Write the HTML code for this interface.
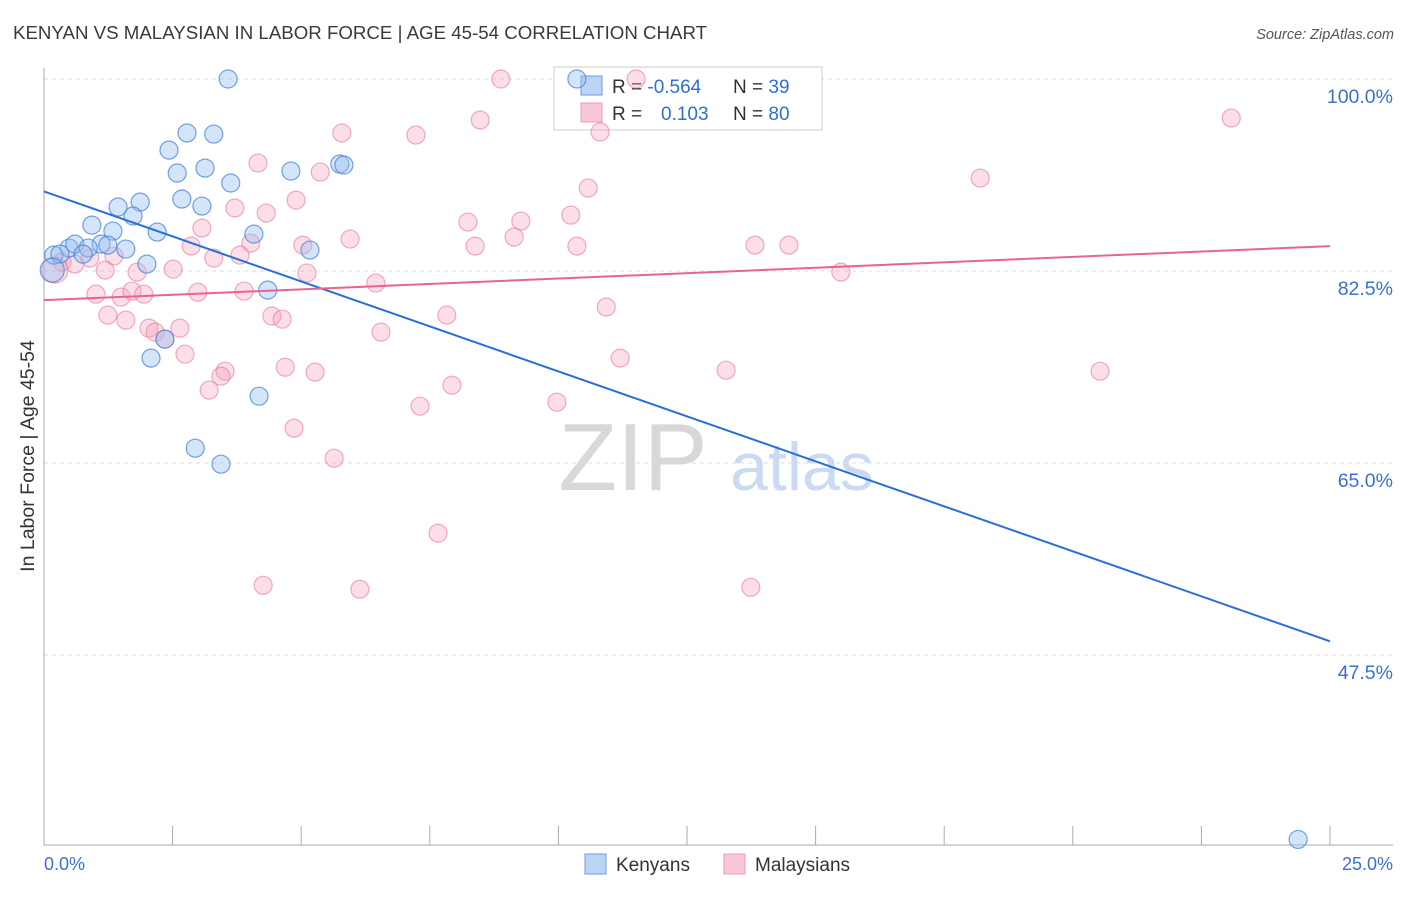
<!DOCTYPE html>
<html><head><meta charset="utf-8"><style>
body{margin:0;background:#fff;font-family:"Liberation Sans",sans-serif}
svg text{font-family:"Liberation Sans",sans-serif}
</style></head><body>
<svg id="chart" width="1406" height="892" xmlns="http://www.w3.org/2000/svg">
<text x="13" y="39" font-size="18.7" fill="#3a3a3a">KENYAN VS MALAYSIAN IN LABOR FORCE | AGE 45-54 CORRELATION CHART</text>
<text x="1394" y="39" font-size="14.5" fill="#555" text-anchor="end" font-style="italic">Source: ZipAtlas.com</text>
<text transform="translate(34,456) rotate(-90)" font-size="19.5" fill="#333" text-anchor="middle">In Labor Force | Age 45-54</text>
<g>
<text x="633" y="490" font-size="96" fill="#d8d8d8" font-family="Liberation Serif" text-anchor="middle">ZIP</text>
<text x="802" y="490" font-size="68" fill="#c9daf2" text-anchor="middle">atlas</text>
</g>
<g id="grid"></g>
<g id="axes"></g>
<g>
<rect x="554" y="67" width="268" height="63" fill="#fff" stroke="#ccc"/>
<rect x="581" y="76" width="21" height="19" fill="#bcd4f4" stroke="#6a9be2"/>
<rect x="581" y="103" width="21" height="19" fill="#f9c7d5" stroke="#ec9cb4"/>
<text x="612" y="93" font-size="19" fill="#333">R = <tspan fill="#2f6fd6">-0.564</tspan></text>
<text x="733" y="93" font-size="19" fill="#333">N = <tspan fill="#2f6fd6">39</tspan></text>
<text x="612" y="120" font-size="19" fill="#333">R = </text>
<text x="661" y="120" font-size="19" fill="#2f6fd6">0.103</text>
<text x="733" y="120" font-size="19" fill="#333">N = <tspan fill="#2f6fd6">80</tspan></text>
</g>
<g id="points"></g>
<g id="trends"></g>
<g>
<rect x="585" y="854" width="21" height="20" fill="#bcd4f4" stroke="#6a9be2"/>
<text x="616" y="871" font-size="19" fill="#333">Kenyans</text>
<rect x="724" y="854" width="21" height="20" fill="#f9c7d5" stroke="#ec9cb4"/>
<text x="755" y="871" font-size="19" fill="#333">Malaysians</text>
</g>
</svg>
<script>
const yTicks=[100,82.5,65,47.5];
const yTickLabels=["100.0%","82.5%","65.0%","47.5%"];
const xTickLabels=["0.0%","25.0%"];
const kenyanX=[3.58,10.36,2.78,3.30,2.43,2.59,3.13,3.63,4.80,5.75,5.83,2.68,3.07,1.87,1.44,1.73,0.93,2.20,1.34,4.08,1.11,1.24,1.59,0.49,0.60,0.86,0.19,0.31,0.76,2.00,5.17,4.35,2.35,2.08,4.18,2.94,3.44,24.38,0.16];
const kenyanY=[100,100,95.08,94.98,93.52,91.43,91.88,90.52,91.61,92.25,92.16,89.06,88.42,88.78,88.33,87.51,86.68,86.05,86.14,85.86,84.95,84.86,84.50,84.59,84.95,84.59,83.95,84.04,84.04,83.13,84.41,80.76,76.29,74.56,71.09,66.35,64.89,30.69,82.58];
const malayX=[8.88,11.51,23.08,8.48,5.79,7.23,10.81,4.16,5.37,18.20,10.58,4.90,3.71,4.32,3.07,8.24,9.27,10.24,5.95,2.86,5.03,8.38,9.14,10.36,13.82,14.48,4.02,3.81,3.30,1.36,0.89,0.35,0.60,1.19,2.51,5.11,15.49,6.45,1.81,1.01,1.50,1.71,1.94,2.99,3.89,10.93,1.24,1.59,2.04,2.16,2.64,4.43,4.63,7.83,6.55,2.35,2.74,11.20,13.26,20.53,3.52,3.44,4.69,5.27,7.93,3.21,9.97,7.31,4.86,5.64,7.66,4.26,6.14,13.74,0.21];
const malayY=[100,100,96.44,96.26,95.08,94.89,95.17,92.34,91.52,90.97,90.06,88.96,88.24,87.78,86.41,86.96,87.05,87.60,85.41,84.77,84.86,84.77,85.59,84.77,84.86,84.86,85.04,83.95,83.68,83.86,83.68,83.31,83.13,82.58,82.67,82.31,82.40,81.40,82.40,80.39,80.12,80.67,80.39,80.57,80.67,79.21,78.48,78.02,77.29,76.93,77.29,78.39,78.11,78.48,76.93,76.29,74.92,74.56,73.46,73.37,73.37,72.91,73.73,73.28,72.09,71.64,70.54,70.18,68.17,65.44,58.60,53.85,53.49,53.67,82.58];
const kenyanTrend=[89.75,48.75];
const malayTrend=[79.84,84.77];
const X0=44,X1=1330,XMIN=0,XMAX=25,Y100=79,PXPER=192/17.5;
const sx=v=>X0+(v-XMIN)/(XMAX-XMIN)*(X1-X0);
const sy=v=>Y100+(100-v)*PXPER;
const NS="http://www.w3.org/2000/svg";
function mk(tag,attrs,parent,txt){const e=document.createElementNS(NS,tag);for(const k in attrs)e.setAttribute(k,attrs[k]);if(txt!==undefined)e.textContent=txt;parent.appendChild(e);return e;}
const grid=document.getElementById('grid'),axes=document.getElementById('axes'),pts=document.getElementById('points'),tr=document.getElementById('trends');
yTicks.forEach((t,i)=>{
 const l=mk('line',{x1:44,x2:1393,y1:sy(t),y2:sy(t),stroke:'#ddd','stroke-dasharray':'4,4'},grid);
 
 
 const tx=mk('text',{x:1393,y:sy(t)+24,'font-size':19.5,fill:'#3b6fd4','text-anchor':'end'},axes,yTickLabels[i]);
 
 
});
const ya=mk('line',{x1:44,x2:44,y1:68,y2:845,stroke:'#aaa'},axes);


const xa=mk('line',{x1:44,x2:1393,y1:845,y2:845,stroke:'#aaa'},axes);


for(let i=1;i<=10;i++){
 const v=XMIN+i*2.5;
 const tk=mk('line',{x1:sx(v),x2:sx(v),y1:826,y2:845,stroke:'#aaa'},axes);
 
 
}
const xl0=mk('text',{x:44,y:870,'font-size':18,fill:'#3b6fd4'},axes,xTickLabels[0]);


const xl1=mk('text',{x:1393,y:870,'font-size':18,fill:'#3b6fd4','text-anchor':'end'},axes,xTickLabels[1]);


malayX.forEach((x,i)=>{
 const big=i===malayX.length-1;
 const c=mk('circle',{cx:sx(x),cy:sy(malayY[i]),r:big?13:9,fill:'rgba(244,160,185,0.35)',stroke:'rgba(232,120,155,0.6)','stroke-width':1.2},pts);
 
 
});
kenyanX.forEach((x,i)=>{
 const big=i===kenyanX.length-1;
 const c=mk('circle',{cx:sx(x),cy:sy(kenyanY[i]),r:big?12:9,fill:'rgba(150,190,240,0.4)',stroke:'rgba(70,130,220,0.75)','stroke-width':1.2},pts);
 
 
});
const bl=mk('line',{x1:sx(XMIN),y1:sy(kenyanTrend[0]),x2:sx(XMAX),y2:sy(kenyanTrend[1]),stroke:'#2a6fd8','stroke-width':2},tr);


const pl=mk('line',{x1:sx(XMIN),y1:sy(malayTrend[0]),x2:sx(XMAX),y2:sy(malayTrend[1]),stroke:'#e8638e','stroke-width':2},tr);


</script>
</body></html>
